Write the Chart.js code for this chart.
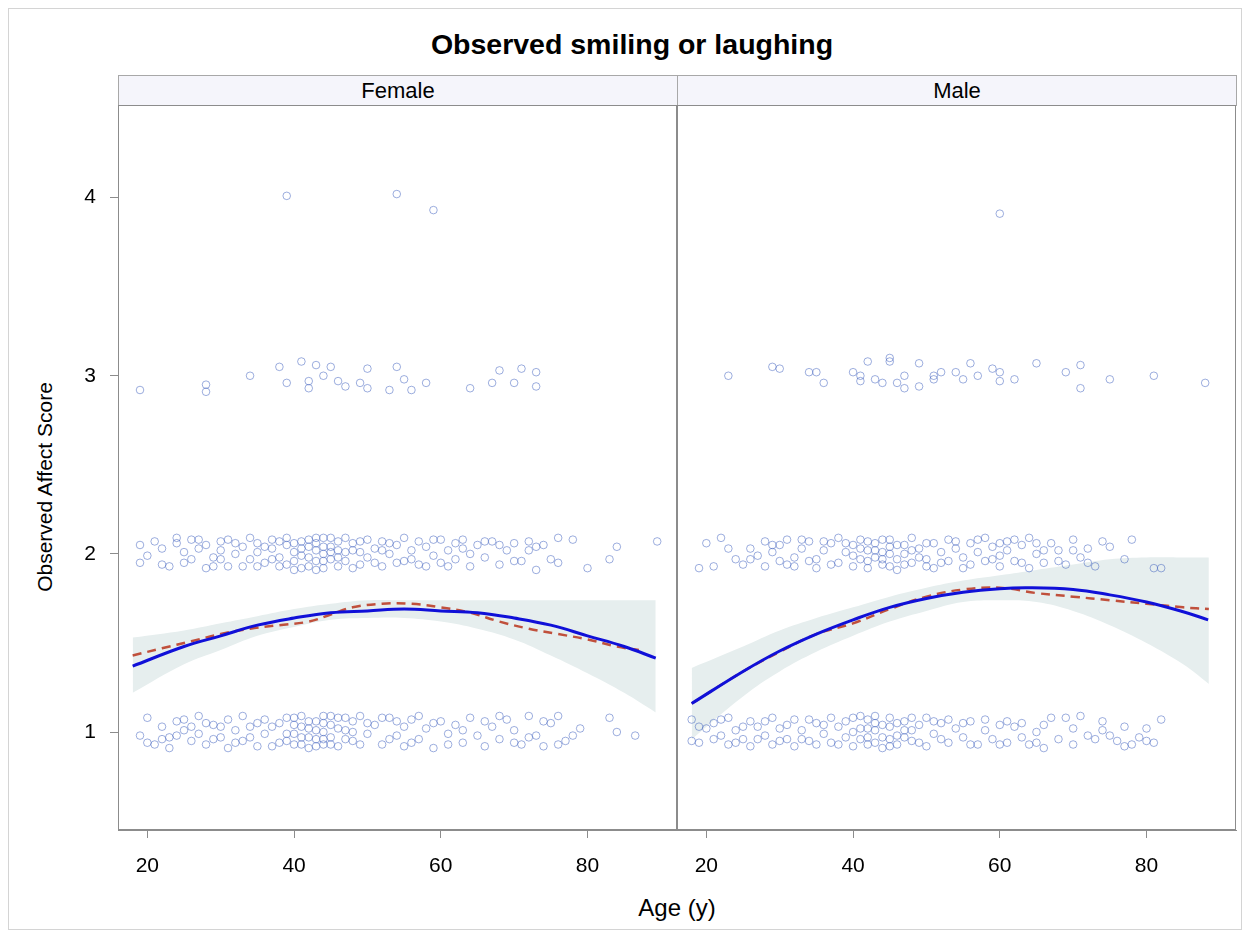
<!DOCTYPE html>
<html>
<head>
<meta charset="utf-8">
<script src="https://cdn.jsdelivr.net/npm/chart.js@4"></script>
<style>
  body { margin: 0; background: #fff; font-family: "Liberation Sans", Arial, sans-serif; }
  #wrap { position: relative; width: 1250px; height: 938px; background: #fff; }
  #frame { position: absolute; left: 8px; top: 8px; width: 1232px; height: 920px; border: 1px solid #d4d4d4; }
  #title { position: absolute; left: 15px; width: 1234px; top: 28px; text-align: center; font-weight: bold; font-size: 28.5px; color: #000; }
  .strip { position: absolute; top: 75px; height: 31px; background: #f5f5fb; border: 1px solid #a8a8a8; box-sizing: border-box;
           text-align: center; font-size: 22px; line-height: 29px; color: #000; }
  #ylab { position: absolute; left: 45px; top: 487px; transform: translate(-50%, -50%) rotate(-90deg); font-size: 21px; white-space: nowrap; }
  #xlab { position: absolute; left: 677px; top: 908px; transform: translate(-50%, -50%); font-size: 24px; white-space: nowrap; }
  canvas { position: absolute; }
</style>
</head>
<body>
<div id="wrap">
  <div id="frame"></div>
  <div id="title">Observed smiling or laughing</div>
  <div class="strip" style="left:118px;width:560px;">Female</div>
  <div class="strip" style="left:677px;width:560px;">Male</div>
  <div id="ylab">Observed Affect Score</div>
  <div id="xlab">Age (y)</div>
  <canvas id="femaleChart" style="left:20px;top:100px;" width="658" height="775"></canvas>
  <canvas id="maleChart" style="left:677px;top:100px;" width="560" height="775"></canvas>
</div>
<script>
// panels and ticks
var panels = ['Female', 'Male'];
var xTicks = [20, 40, 60, 80];
var yTicks = [1, 2, 3, 4];

// Female: quadratic fit, loess and confidence band
var femFitX = [18, 25, 30, 35, 40, 45, 50, 55, 60, 65, 70, 75, 80, 85, 89.3];
var femFit  = [1.37, 1.48, 1.54, 1.60, 1.64, 1.67, 1.68, 1.69, 1.68, 1.67, 1.64, 1.60, 1.54, 1.48, 1.415];
var femLoessX = [18, 22, 26, 30, 34, 38, 42, 45, 48, 52, 56, 60, 64, 68, 72, 76, 80, 84, 87];
var femLoess  = [1.43, 1.47, 1.51, 1.55, 1.58, 1.60, 1.62, 1.66, 1.70, 1.72, 1.72, 1.70, 1.67, 1.62, 1.58, 1.55, 1.52, 1.48, 1.46];
var femBandX = [18, 25, 30, 35, 40, 45, 50, 55, 60, 65, 70, 75, 80, 85, 89.3];
var femUpper = [1.53, 1.57, 1.61, 1.65, 1.69, 1.72, 1.74, 1.74, 1.74, 1.74, 1.74, 1.74, 1.74, 1.74, 1.74];
var femLower = [1.22, 1.38, 1.46, 1.54, 1.59, 1.63, 1.64, 1.64, 1.62, 1.58, 1.52, 1.43, 1.33, 1.22, 1.11];

// Female observations (age, score with jitter)
var femPoints = [
  [39,4.01],[54,4.02],[59,3.93],
  [19,2.92],[28,2.95],[28,2.91],[34,3.0],[38,3.05],[39,2.96],[41,3.08],[42,2.97],[42,2.93],[43,3.06],[44,3.0],
  [45,3.05],[46,2.97],[47,2.94],[49,2.96],[50,3.04],[50,2.93],[53,2.92],[54,3.05],[55,2.98],[56,2.92],[58,2.96],
  [64,2.93],[67,2.96],[68,3.03],[70,2.96],[71,3.04],[73,2.94],[73,3.02],
  [19,2.05],[19,1.95],[21,2.07],[22,2.03],[23,1.93],[24,2.06],[25,2.01],[26,1.97],[26,2.08],[27,2.03],[28,1.92],
  [28,2.05],[29,1.98],[30,2.07],[30,2.02],[31,2.08],[31,1.93],[32,2.0],[33,2.04],[33,1.93],[34,1.97],[35,2.06],
  [35,2.01],[36,1.95],[37,2.08],[37,2.03],[38,1.93],[38,1.98],[39,2.05],[39,2.09],[40,2.01],[40,1.96],[40,1.91],
  [41,2.07],[41,2.03],[42,1.98],[42,1.93],[42,2.08],[43,2.02],[43,1.96],[43,2.06],[44,1.92],[44,2.0],[44,2.09],
  [45,2.04],[45,1.97],[46,2.07],[46,1.93],[47,2.01],[47,1.96],[48,2.06],[48,2.02],[49,1.94],[50,2.08],[50,1.98],
  [51,2.03],[52,1.93],[52,2.07],[53,2.0],[54,1.95],[54,2.05],[55,2.09],[56,1.97],[56,2.02],[57,2.07],[58,1.93],
  [58,2.04],[59,1.99],[60,2.08],[60,1.95],[61,2.02],[62,2.06],[62,1.97],[63,2.03],[64,1.93],[65,2.05],[66,1.98],
  [67,2.07],[68,1.94],[69,2.02],[70,2.06],[71,1.96],[72,2.02],[73,1.91],[74,2.05],[75,1.97],[76,2.09],[76,1.95],
  [78,2.08],[80,1.92],[83,1.97],[84,2.04],[89.5,2.07],
  [20,1.99],[22,1.94],[24,2.09],[25,1.95],[27,2.08],[29,1.93],[30,1.97],[32,2.06],[34,2.09],[35,1.93],[36,2.04],
  [37,1.97],[38,2.07],[39,1.94],[40,2.06],[41,1.99],[41,1.92],[42,2.04],[43,2.09],[43,1.91],[44,2.04],[44,1.96],
  [45,2.01],[45,2.09],[46,2.02],[46,1.98],[47,2.09],[48,1.92],[49,2.07],[49,2.01],[51,1.95],[52,2.02],[53,2.06],
  [55,1.96],[57,1.94],[59,2.08],[61,1.93],[63,2.08],[64,2.0],[66,2.07],[68,2.05],[70,1.96],[72,2.07],[73,2.04],
  [19,0.98],[20,1.08],[21,0.93],[22,1.03],[23,0.97],[23,0.91],[24,1.06],[25,1.01],[26,0.95],[27,1.09],[27,0.99],
  [28,0.93],[29,1.04],[30,0.97],[31,1.07],[31,0.91],[32,1.01],[33,1.09],[33,0.95],[34,1.03],[35,0.92],[36,0.99],
  [36,1.07],[37,1.03],[38,0.94],[39,1.08],[39,0.99],[40,1.04],[40,0.93],[41,1.09],[41,0.97],[42,1.02],[42,0.91],
  [43,1.06],[43,0.96],[44,1.0],[44,1.09],[44,0.93],[45,1.04],[45,0.97],[46,1.08],[46,0.92],[47,1.01],[48,1.06],
  [48,0.95],[49,1.09],[50,0.99],[51,1.04],[52,0.93],[53,1.08],[54,0.98],[55,1.03],[55,0.92],[56,1.07],[57,0.96],
  [58,1.02],[59,0.91],[60,1.06],[61,0.99],[62,1.04],[63,0.94],[64,1.08],[65,0.98],[66,0.92],[67,1.03],[68,0.96],
  [69,1.07],[70,1.01],[71,0.93],[72,1.09],[73,0.98],[74,0.92],[75,1.05],[76,1.09],[77,0.95],[79,1.02],[83,1.08],
  [84,1.0],[86.5,0.98],
  [20,0.94],[22,0.96],[24,0.98],[25,1.07],[26,1.03],[28,1.05],[29,0.96],[30,1.03],[32,0.94],[34,0.97],[35,1.05],
  [37,0.92],[38,1.05],[39,0.95],[40,1.08],[40,0.99],[41,1.03],[41,0.93],[42,1.06],[42,0.97],[43,1.01],[43,0.92],
  [44,1.05],[44,0.96],[45,1.09],[45,0.93],[46,1.02],[47,0.96],[47,1.08],[48,1.0],[49,0.93],[50,1.05],[52,1.08],
  [53,0.96],[54,1.06],[56,0.94],[57,1.09],[59,1.05],[61,0.93],[63,1.01],[66,1.06],[68,1.09],[70,0.94],[72,0.97],
  [74,1.06],[76,0.93],[78,0.98]
];

// Male: quadratic fit, loess and confidence band
var maleFitX = [18, 25, 30, 35, 40, 45, 50, 55, 60, 64, 70, 75, 80, 85, 88.4];
var maleFit  = [1.16, 1.34, 1.455, 1.55, 1.63, 1.70, 1.75, 1.785, 1.805, 1.81, 1.80, 1.77, 1.73, 1.675, 1.63];
var maleLoessX = [18, 25, 30, 35, 40, 45, 50, 55, 60, 65, 70, 75, 80, 85, 88.5];
var maleLoess  = [1.16, 1.34, 1.45, 1.55, 1.61, 1.69, 1.76, 1.80, 1.81, 1.78, 1.76, 1.74, 1.72, 1.70, 1.69];
var maleBandX = [18, 25, 30, 35, 40, 45, 50, 55, 60, 65, 70, 75, 80, 85, 88.5];
var maleUpper = [1.36, 1.48, 1.57, 1.64, 1.70, 1.76, 1.81, 1.85, 1.88, 1.91, 1.94, 1.97, 1.98, 1.98, 1.98];
var maleLower = [0.96, 1.20, 1.34, 1.45, 1.54, 1.62, 1.68, 1.73, 1.74, 1.73, 1.68, 1.60, 1.50, 1.38, 1.27];

// Male observations
var malePoints = [
  [60,3.91],
  [23,3.0],[29,3.05],[30,3.04],[34,3.02],[35,3.02],[36,2.96],[40,3.02],[41,3.0],[41,2.97],[42,3.08],[43,2.98],
  [44,2.96],[45,3.1],[45,3.08],[46,2.96],[47,2.93],[47,3.0],[49,3.07],[49,2.94],[51,2.98],[51,3.0],[52,3.02],
  [54,3.02],[55,2.98],[56,3.07],[57,3.0],[59,3.04],[60,3.02],[60,2.97],[62,2.98],[65,3.07],[69,3.02],[71,3.06],
  [71,2.93],[75,2.98],[81,3.0],[88,2.96],
  [19,1.92],[20,2.06],[21,1.93],[22,2.09],[24,1.97],[25,1.94],[26,2.03],[27,1.99],[28,2.07],[28,1.93],[29,2.01],
  [30,1.96],[30,2.05],[31,2.08],[32,1.98],[32,1.93],[33,2.03],[34,2.07],[35,1.97],[35,1.92],[36,2.02],[37,2.06],
  [38,1.95],[38,2.09],[39,2.01],[40,1.93],[40,2.05],[41,1.97],[41,2.08],[42,2.02],[42,1.92],[43,2.06],[43,1.98],
  [44,2.01],[44,1.94],[45,2.08],[45,2.04],[46,1.97],[46,1.91],[47,2.05],[47,2.0],[48,1.95],[48,2.09],[49,2.03],
  [50,1.97],[50,1.93],[51,2.06],[52,2.01],[52,1.95],[53,2.08],[54,2.03],[55,1.98],[55,1.92],[56,2.06],[57,2.01],
  [58,1.96],[58,2.09],[59,2.04],[60,1.93],[60,1.99],[61,2.07],[61,2.02],[62,1.96],[63,2.05],[64,1.92],[64,2.09],
  [65,2.0],[66,1.95],[67,2.06],[68,2.02],[69,1.94],[70,2.08],[71,1.98],[72,2.03],[73,1.93],[74,2.07],[77,1.97],
  [78,2.08],[81,1.92],[82,1.92],
  [23,2.03],[26,1.97],[29,2.05],[31,1.94],[33,2.08],[34,1.96],[36,2.07],[37,1.94],[39,2.06],[40,1.99],[41,2.03],
  [42,2.07],[42,1.96],[43,2.02],[44,2.08],[44,1.97],[45,1.93],[45,2.0],[46,2.05],[47,1.94],[48,2.02],[49,1.98],
  [50,2.06],[51,1.92],[53,1.96],[54,2.07],[56,1.94],[57,2.08],[59,1.97],[60,2.06],[62,2.08],[63,1.95],[65,2.06],
  [66,2.02],[68,1.96],[70,2.02],[72,1.95],[75,2.04],
  [18,1.07],[18,0.95],[19,0.94],[20,1.02],[21,1.05],[22,0.98],[23,1.08],[23,0.93],[24,1.01],[25,0.96],[26,1.06],
  [26,0.92],[27,1.03],[28,0.98],[29,1.08],[29,0.93],[30,1.02],[31,0.96],[32,1.07],[32,0.92],[33,1.01],[34,0.95],
  [35,1.05],[35,0.93],[36,0.99],[37,1.08],[37,0.94],[38,1.03],[39,0.97],[40,1.08],[40,0.92],[41,1.02],[41,0.96],
  [42,1.07],[42,0.93],[43,1.01],[43,1.05],[44,0.97],[44,0.91],[45,1.08],[45,1.03],[46,0.98],[46,0.93],[47,1.06],
  [47,1.01],[48,0.95],[49,1.04],[50,0.92],[50,1.08],[51,0.99],[52,1.05],[53,0.94],[54,1.02],[55,0.97],[56,1.06],
  [57,0.93],[58,1.01],[59,0.96],[60,1.04],[61,0.94],[62,1.03],[63,0.97],[64,0.93],[65,1.0],[66,0.91],[67,1.08],
  [68,0.96],[69,1.08],[70,1.02],[71,1.09],[73,0.96],[74,1.01],[75,0.98],[76,0.95],[77,1.03],[78,0.93],[79,0.97],
  [80,1.02],[81,0.94],[82,1.07],
  [19,1.03],[21,0.96],[22,1.07],[24,0.94],[25,1.03],[27,0.96],[28,1.06],[30,0.95],[31,1.04],[33,0.96],[34,1.07],
  [36,1.04],[38,0.93],[39,1.06],[40,1.0],[41,1.09],[42,0.97],[42,1.02],[43,0.94],[43,1.09],[44,1.04],[45,0.96],
  [45,0.92],[46,1.05],[47,0.97],[48,1.08],[48,1.01],[49,0.94],[51,1.06],[52,0.96],[53,1.07],[55,1.05],[56,0.93],
  [58,1.07],[60,0.93],[61,1.06],[63,1.05],[65,0.94],[66,1.04],[70,0.93],[72,0.98],[74,1.06],[77,0.92],[80,0.95]
];

function toXY(xs, ys) {
    return xs.map(function (x, i) { return { x: x, y: ys[i] }; });
}

// draws the panel box around the plot area
var panelBox = {
    id: 'panelBox',
    afterDraw: function (chart) {
        var a = chart.chartArea, ctx = chart.ctx;
        ctx.save();
        ctx.strokeStyle = '#8c8c8c';
        ctx.lineWidth = 1;
        ctx.strokeRect(a.left + 0.5, a.top + 0.5, a.right - a.left - 1, a.bottom - a.top - 1);
        ctx.restore();
    }
};

function noPad(axis) {
    axis.paddingTop = 0; axis.paddingBottom = 0;
    axis.paddingLeft = 0; axis.paddingRight = 0;
}

function makePanel(canvasId, showY, fitX, fit, loessX, loess, bandX, upper, lower, points) {
    var ctx = document.getElementById(canvasId).getContext('2d');
    return new Chart(ctx, {
        type: 'line',
        data: {
            datasets: [
                { // quadratic fit
                    data: toXY(fitX, fit),
                    borderColor: '#1010d8', borderWidth: 3,
                    pointRadius: 0, tension: 0.4, fill: false
                },
                { // loess
                    data: toXY(loessX, loess),
                    borderColor: '#c0503c', borderWidth: 2.5, borderDash: [9, 6],
                    pointRadius: 0, tension: 0.4, fill: false
                },
                { // observations
                    data: points.map(function (p) { return { x: p[0], y: p[1] }; }),
                    showLine: false,
                    pointRadius: 3.8, pointBorderWidth: 1,
                    pointBorderColor: 'rgba(50, 85, 185, 0.48)',
                    pointBackgroundColor: 'rgba(0,0,0,0)'
                },
                { // band upper
                    data: toXY(bandX, upper),
                    borderWidth: 0, borderColor: 'rgba(0,0,0,0)', pointRadius: 0,
                    tension: 0.4, fill: '+1', backgroundColor: '#e6eeee'
                },
                { // band lower
                    data: toXY(bandX, lower),
                    borderWidth: 0, borderColor: 'rgba(0,0,0,0)', pointRadius: 0,
                    tension: 0.4, fill: false
                }
            ]
        },
        options: {
            responsive: false,
            animation: false,
            events: [],
            layout: { autoPadding: false, padding: { top: 5, right: 1, left: 0, bottom: 0 } },
            plugins: { legend: { display: false }, tooltip: { enabled: false } },
            scales: {
                x: {
                    type: 'linear', min: 16, max: 92.2,
                    afterBuildTicks: function (axis) { axis.ticks = xTicks.map(function (v) { return { value: v }; }); },
                    afterFit: function (axis) { axis.height = 45; noPad(axis); },
                    grid: { drawOnChartArea: false, drawTicks: true, tickLength: 8, color: '#8c8c8c' },
                    border: { display: true, color: '#8c8c8c' },
                    ticks: { color: '#000', font: { size: 21, family: 'Liberation Sans' }, padding: 16, maxRotation: 0 }
                },
                y: {
                    display: showY,
                    min: 0.45, max: 4.52,
                    afterBuildTicks: function (axis) { axis.ticks = yTicks.map(function (v) { return { value: v }; }); },
                    afterFit: function (axis) { axis.width = showY ? 98 : 0; noPad(axis); },
                    grid: { drawOnChartArea: false, drawTicks: true, tickLength: 8, color: '#8c8c8c' },
                    border: { display: true, color: '#8c8c8c' },
                    ticks: { color: '#000', font: { size: 21, family: 'Liberation Sans' }, padding: 14 }
                }
            }
        },
        plugins: [panelBox]
    });
}

makePanel('femaleChart', true, femFitX, femFit, femLoessX, femLoess, femBandX, femUpper, femLower, femPoints);
makePanel('maleChart', false, maleFitX, maleFit, maleLoessX, maleLoess, maleBandX, maleUpper, maleLower, malePoints);
</script>
</body>
</html>
